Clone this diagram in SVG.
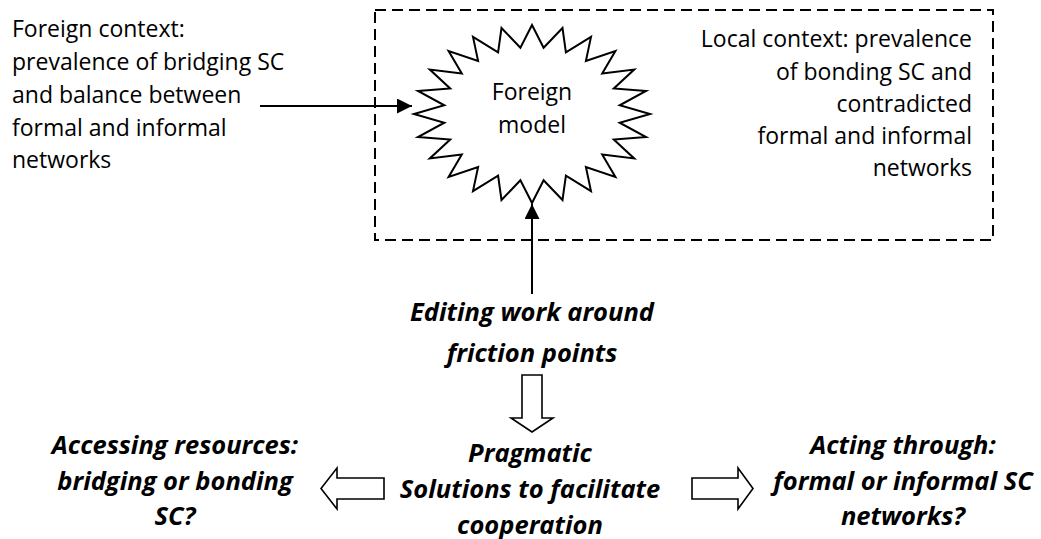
<svg xmlns="http://www.w3.org/2000/svg" width="1041" height="539" viewBox="0 0 1041 539">
<style>
.t{font-family:"Open Sans","Liberation Sans",sans-serif;font-size:23px;fill:#000}
.b{font-family:"Open Sans","Liberation Sans",sans-serif;font-size:25.5px;font-weight:bold;font-style:italic;fill:#000}
.ln{stroke:#000;stroke-width:2;fill:none}
.blk{stroke:#000;stroke-width:1.6;fill:#fff}
</style>
<defs>
<marker id="ah" viewBox="0 0 10 10" refX="10" refY="5" markerWidth="16" markerHeight="15" markerUnits="userSpaceOnUse" orient="auto">
<path d="M0,0 L10,5 L0,10 Z" fill="#000"/>
</marker>
</defs>
<rect width="1041" height="539" fill="#fff"/>
<g id="local-context">
<rect x="375" y="10" width="618" height="230" fill="none" stroke="#000" stroke-width="2" stroke-dasharray="11,6"/>
<text class="t" text-anchor="end"><tspan x="972" y="47">Local context: prevalence</tspan><tspan x="972" y="80">of bonding SC and</tspan><tspan x="972" y="112">contradicted</tspan><tspan x="972" y="144">formal and informal</tspan><tspan x="972" y="176">networks</tspan></text>
</g>
<g id="foreign-context">
<text class="t"><tspan x="12" y="37">Foreign context:</tspan><tspan x="12" y="70">prevalence of bridging SC</tspan><tspan x="12" y="103">and balance between</tspan><tspan x="12" y="136">formal and informal</tspan><tspan x="12" y="168">networks</tspan></text>
</g>
<g id="foreign-model">
<polygon fill="#fff" stroke="#000" stroke-width="2" points="532,25 543.6,47.8 562.5,28 565.9,52.3 591,36.9 585.9,61 615.4,51.1 602.2,73.4 634.2,69.5 613.8,88.5 646,91 619.7,105.3 650,114 619.7,122.7 646,137 613.8,139.5 634.2,158.5 602.2,154.6 615.4,176.9 585.9,167 591,191.1 565.9,175.7 562.5,200 543.6,180.2 532,203 520.4,180.2 501.5,200 498.1,175.7 473,191.1 478.1,167 448.6,176.9 461.8,154.6 429.8,158.5 450.2,139.5 418,137 444.3,122.7 414,114 444.3,105.3 418,91 450.2,88.5 429.8,69.5 461.8,73.4 448.6,51.1 478.1,61 473,36.9 498.1,52.3 501.5,28 520.4,47.8"/>
<text class="t" text-anchor="middle"><tspan x="532" y="100">Foreign</tspan><tspan x="532" y="133">model</tspan></text>
</g>
<g id="editing">
<text class="b" text-anchor="middle"><tspan x="532" y="321">Editing work around</tspan><tspan x="532" y="362">friction points</tspan></text>
</g>
<g id="pragmatic">
<text class="b" text-anchor="middle"><tspan x="530" y="462">Pragmatic</tspan><tspan x="530" y="498">Solutions to facilitate</tspan><tspan x="530" y="534">cooperation</tspan></text>
</g>
<g id="accessing">
<text class="b" text-anchor="middle"><tspan x="175" y="454">Accessing resources:</tspan><tspan x="175" y="490">bridging or bonding</tspan><tspan x="175" y="525">SC?</tspan></text>
</g>
<g id="acting">
<text class="b" text-anchor="middle"><tspan x="903" y="454">Acting through:</tspan><tspan x="903" y="490">formal or informal SC</tspan><tspan x="903" y="525">networks?</tspan></text>
</g>
<g id="connectors">
<line class="ln" x1="260" y1="106" x2="412" y2="106" marker-end="url(#ah)"/>
<line class="ln" x1="532" y1="294" x2="532" y2="204" marker-end="url(#ah)"/>
<path class="blk" d="M522,375 L542,375 L542,418 L553,418 L532,432 L511,418 L522,418 Z"/>
<path class="blk" d="M384,478 L384,499 L337,499 L337,509 L321,488.5 L337,468 L337,478 Z"/>
<path class="blk" d="M692,478 L738,478 L738,468 L753,488.5 L738,509 L738,499 L692,499 Z"/>
</g>
</svg>
